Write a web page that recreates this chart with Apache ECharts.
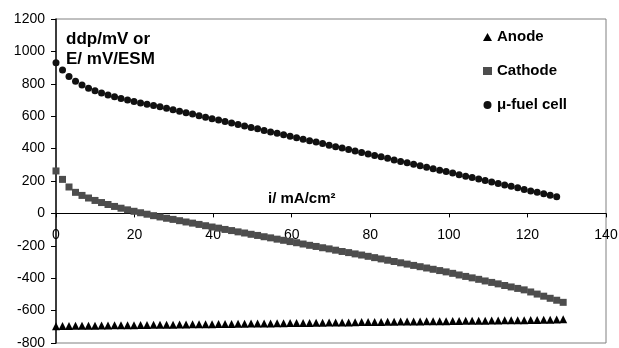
<!DOCTYPE html>
<html>
<head>
<meta charset="utf-8">
<script src="https://cdn.jsdelivr.net/npm/echarts@6/dist/echarts.min.js"></script>
<style>html,body{margin:0;padding:0;background:#fff;}#c{width:619px;height:348px;}</style>
</head>
<body>
<div id="c"></div>
<script>
// current density i (mA/cm2)
var currents = [0, 1.66, 3.31, 4.97, 6.62, 8.28, 9.93, 11.59, 13.24, 14.9, 16.55, 18.21, 19.86, 21.52, 23.17, 24.83, 26.48, 28.14, 29.79, 31.45, 33.1, 34.76, 36.41, 38.07, 39.72, 41.38, 43.03, 44.69, 46.34, 48.0, 49.66, 51.31, 52.97, 54.62, 56.28, 57.93, 59.59, 61.24, 62.9, 64.55, 66.21, 67.86, 69.52, 71.17, 72.83, 74.48, 76.14, 77.79, 79.45, 81.1, 82.76, 84.41, 86.07, 87.72, 89.38, 91.03, 92.69, 94.34, 96.0, 97.66, 99.31, 100.97, 102.62, 104.28, 105.93, 107.59, 109.24, 110.9, 112.55, 114.21, 115.86, 117.52, 119.17, 120.83, 122.48, 124.14, 125.79, 127.45, 129.1];

var anode = [-696, -695, -695, -694, -694, -693, -693, -692, -692, -691, -691, -690, -690, -689, -689, -688, -688, -687, -687, -686, -686, -685, -685, -684, -684, -683, -682, -682, -681, -681, -680, -680, -679, -679, -678, -678, -677, -677, -676, -676, -675, -675, -674, -674, -673, -673, -672, -671, -671, -670, -670, -669, -669, -668, -668, -667, -667, -666, -666, -665, -665, -664, -664, -663, -663, -662, -662, -661, -661, -660, -660, -659, -659, -658, -658, -657, -656, -655, -654];

var cathode = [262, 210, 163, 130, 111, 95, 80, 67, 55, 43, 32, 22, 13, 4, -5, -14, -22, -30, -37, -45, -53, -60, -68, -76, -84, -91, -99, -106, -114, -121, -129, -136, -144, -151, -159, -166, -174, -181, -189, -197, -204, -212, -219, -227, -235, -242, -250, -257, -265, -273, -281, -289, -297, -305, -313, -321, -329, -337, -345, -353, -361, -370, -380, -389, -398, -407, -417, -426, -435, -445, -454, -463, -472, -485, -498, -511, -524, -536, -549];

var fuelCell = [930, 885, 845, 815, 792, 773, 757, 743, 731, 720, 710, 700, 691, 682, 674, 666, 658, 649, 640, 631, 622, 613, 603, 594, 585, 576, 567, 558, 549, 540, 531, 522, 512, 503, 494, 485, 476, 467, 458, 449, 440, 431, 421, 412, 403, 394, 385, 376, 367, 358, 349, 340, 330, 321, 312, 303, 294, 285, 276, 267, 258, 249, 239, 230, 221, 212, 203, 194, 185, 176, 167, 158, 148, 139, 130, 121, 112, 103];

var seriesNames = ['Anode', 'Cathode', '\u03bc-fuel cell'];
var xTitle = 'i/ mA/cm\u00b2';
var yTitle = ['ddp/mV or', 'E/ mV/ESM'];
var xMin = 0, xMax = 140, xStep = 20;
var yMin = -800, yMax = 1200, yStep = 200;

function pairs(ys) {
  var out = [];
  for (var k = 0; k < ys.length; k++) out.push([currents[k], ys[k]]);
  return out;
}

var FONT = '"Liberation Sans", Arial, Helvetica, sans-serif';
var GRID_TOP = 19, GRID_H = 324;
// move the x axis up so that it crosses the y axis at zero
var zeroOffset = -(GRID_H * (0 - yMin) / (yMax - yMin));

var chart = echarts.init(document.getElementById('c'), null, {renderer: 'canvas'});
chart.setOption({
  animation: false,
  backgroundColor: '#fff',
  grid: {left: 56, right: 13, top: GRID_TOP, height: GRID_H, outerBoundsMode: 'none', containLabel: false,
         show: true, borderColor: '#808080', borderWidth: 1, backgroundColor: 'transparent'},
  xAxis: {
    type: 'value', min: xMin, max: xMax, interval: xStep, position: 'bottom', offset: zeroOffset,
    axisLine: {onZero: false, lineStyle: {color: '#000', width: 1}},
    axisTick: {show: true, inside: false, length: 4, lineStyle: {color: '#000'}},
    axisLabel: {color: '#000', fontSize: 14, fontFamily: FONT, margin: 15},
    splitLine: {show: false}
  },
  yAxis: {
    type: 'value', min: yMin, max: yMax, interval: yStep,
    axisLine: {show: true, onZero: false, lineStyle: {color: '#111', width: 1.5}},
    axisTick: {show: true, inside: false, length: 5, lineStyle: {color: '#000'}},
    axisLabel: {color: '#000', fontSize: 14, fontFamily: FONT, margin: 11, formatter: function (v) { return String(v); }},
    splitLine: {show: false}
  },
  legend: {
    orient: 'vertical', left: 478, top: 24, itemWidth: 9, itemHeight: 8, itemGap: 18,
    textStyle: {color: '#000', fontSize: 15, fontWeight: 'bold', fontFamily: FONT, lineHeight: 16},
    data: [
      {name: seriesNames[0], icon: 'triangle'},
      {name: seriesNames[1], icon: 'rect'},
      {name: seriesNames[2], icon: 'circle'}
    ]
  },
  graphic: [
    {type: 'text', left: 66, top: 29, style: {text: yTitle.join('\n'), font: 'bold 17px ' + FONT, fill: '#000', lineHeight: 20}},
    {type: 'text', left: 268, top: 191, style: {text: xTitle, font: 'bold 15px ' + FONT, fill: '#000'}}
  ],
  series: [
    {name: seriesNames[0], type: 'scatter', symbol: 'triangle', symbolSize: 8, itemStyle: {color: '#000', opacity: 1}, data: pairs(anode)},
    {name: seriesNames[1], type: 'scatter', symbol: 'rect', symbolSize: 7, itemStyle: {color: '#4d4d4d', opacity: 1}, data: pairs(cathode)},
    {name: seriesNames[2], type: 'scatter', symbol: 'circle', symbolSize: 7, itemStyle: {color: '#111', opacity: 1}, data: pairs(fuelCell)}
  ]
});
</script>
</body>
</html>
